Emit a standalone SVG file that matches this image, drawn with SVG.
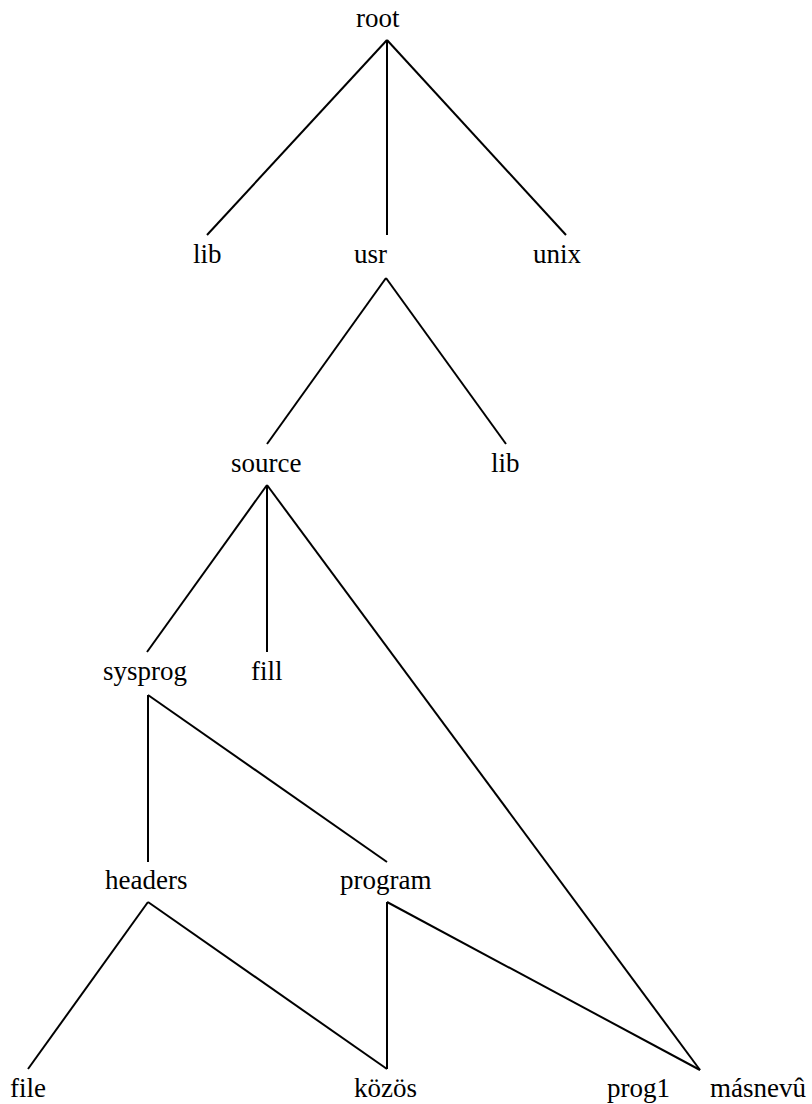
<svg xmlns="http://www.w3.org/2000/svg" width="812" height="1104" viewBox="0 0 812 1104">
<style>
text{font-family:"Liberation Serif","Times New Roman",serif;font-size:27px;fill:#000}
.e line{stroke:#000;stroke-width:2;stroke-linecap:butt}
</style>
<rect width="812" height="1104" fill="#fff"/>
<g class="e" id="connectors">
<line x1="387" y1="40" x2="207" y2="235"/>
<line x1="387" y1="40" x2="387" y2="235"/>
<line x1="387" y1="40" x2="566" y2="235"/>
<line x1="386" y1="278" x2="267" y2="444"/>
<line x1="386" y1="278" x2="506" y2="444"/>
<line x1="267" y1="485" x2="147" y2="652"/>
<line x1="267" y1="485" x2="267" y2="652"/>
<line x1="267" y1="485" x2="700" y2="1070"/>
<line x1="148" y1="695" x2="148" y2="862"/>
<line x1="148" y1="695" x2="387" y2="862"/>
<line x1="148" y1="902" x2="28" y2="1069"/>
<line x1="148" y1="902" x2="387" y2="1069"/>
<line x1="387" y1="902" x2="387" y2="1069"/>
<line x1="387" y1="902" x2="700" y2="1070"/>
</g>
<g id="n-root"><text x="356" y="27">root</text></g>
<g id="n-lib1"><text x="193" y="263">lib</text></g>
<g id="n-usr"><text x="354" y="263">usr</text></g>
<g id="n-unix"><text x="533" y="263">unix</text></g>
<g id="n-source"><text x="231" y="472">source</text></g>
<g id="n-lib2"><text x="491" y="472">lib</text></g>
<g id="n-sysprog"><text x="103" y="680">sysprog</text></g>
<g id="n-fill"><text x="251" y="680">fill</text></g>
<g id="n-headers"><text x="105" y="889">headers</text></g>
<g id="n-program"><text x="340" y="889">program</text></g>
<g id="n-file"><text x="10" y="1097">file</text></g>
<g id="n-kozos"><text x="354" y="1097">közös</text></g>
<g id="n-prog1"><text x="607" y="1097">prog1</text></g>
<g id="n-masnevu"><text x="710" y="1097">másnevû</text></g>
</svg>
